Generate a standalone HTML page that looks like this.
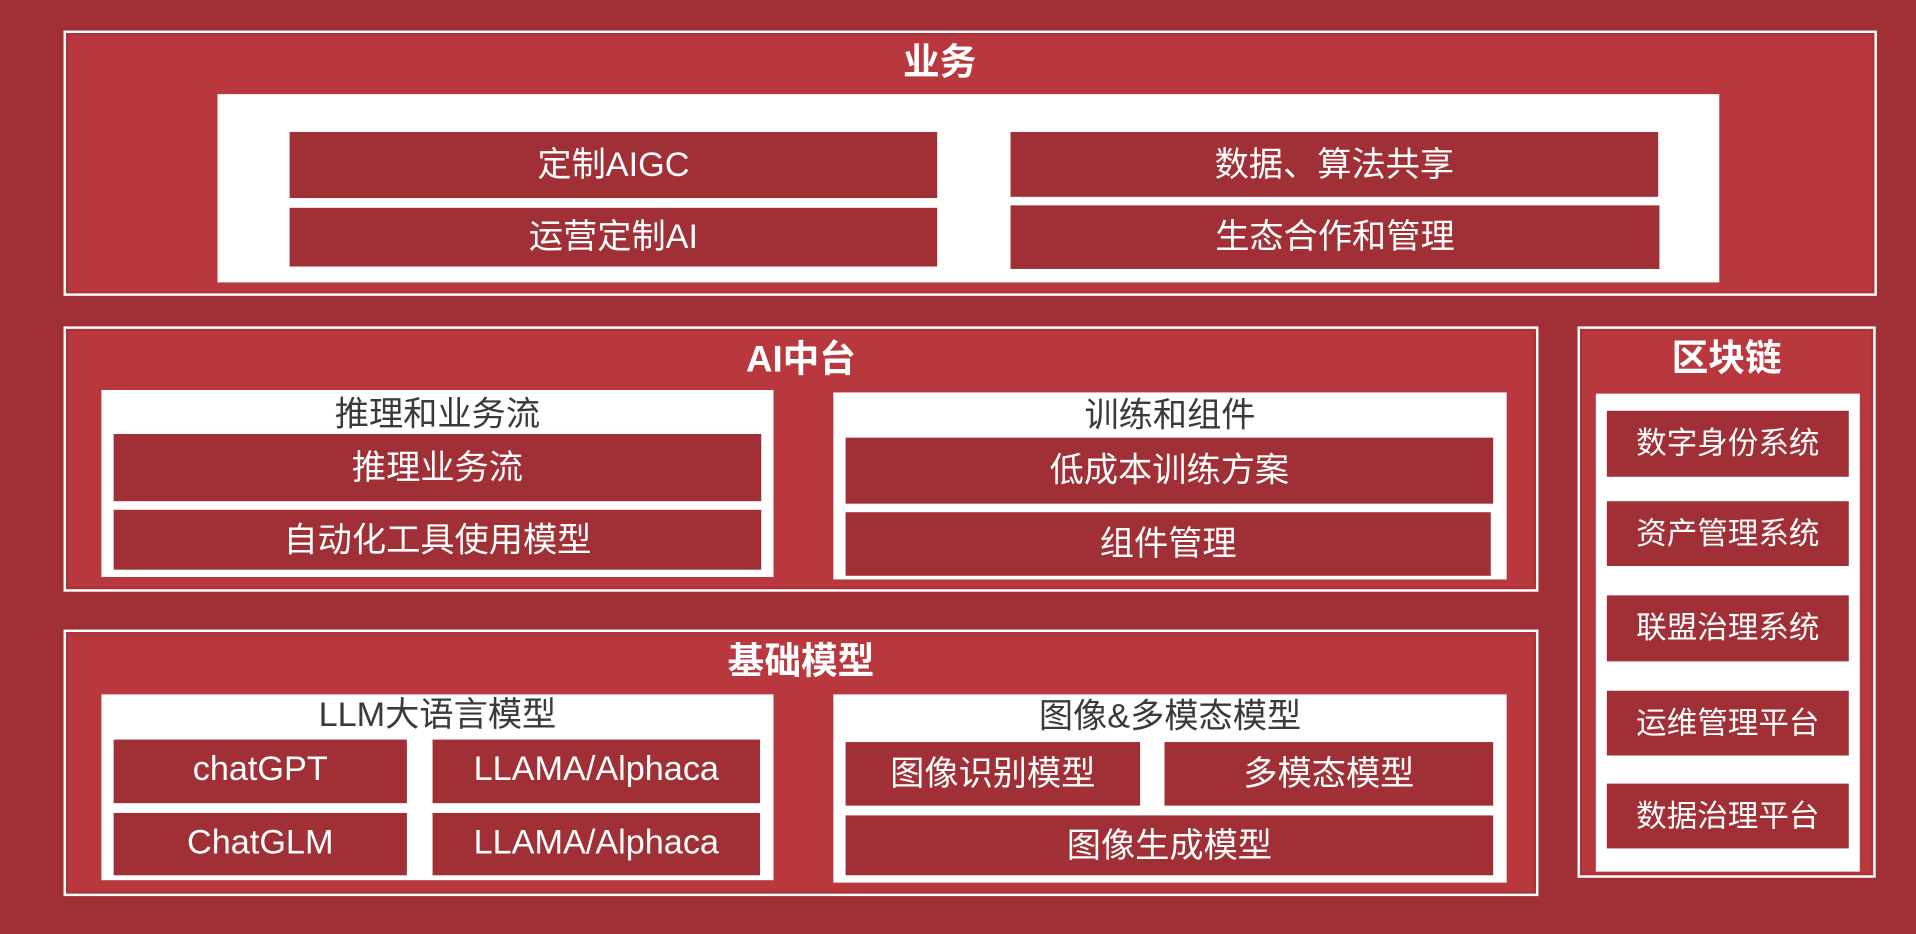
<!DOCTYPE html>
<html><head><meta charset="utf-8"><style>
html,body{margin:0;padding:0;width:1916px;height:934px;overflow:hidden;background:#A03035;}
#c{position:absolute;left:0;top:0;width:1568px;height:764px;transform:scale(1.22194,1.2225);transform-origin:0 0;font-family:"Liberation Sans","Noto Sans CJK SC",sans-serif;}
.o{position:absolute;background:#B9383D;border:2px solid #fff;box-shadow:inset 0 0 0 2px #A83338;box-sizing:border-box;}
.w{position:absolute;background:#fff;}
.b{position:absolute;background:#A03035;color:#fff;font-size:28px;display:flex;align-items:center;justify-content:center;white-space:nowrap;padding-bottom:4px;box-sizing:border-box;}
.t{position:absolute;color:#fff;font-weight:bold;font-size:30px;text-align:center;line-height:1;}
.l{position:absolute;color:#3a3a3a;font-size:28px;text-align:center;line-height:1;}
.s{font-size:25px;}
</style></head><body><div id="c">
<div class="o" style="left:52px;top:25px;width:1484px;height:217px"></div>
<div class="t" style="left:52px;width:1434px;top:37px">业务</div>
<div class="w" style="left:178px;top:77px;width:1229px;height:154px"></div>
<div class="b" style="left:237px;top:108px;width:530px;height:54px">定制AIGC</div>
<div class="b" style="left:237px;top:170px;width:530px;height:48px">运营定制AI</div>
<div class="b" style="left:827px;top:108px;width:530px;height:53px">数据、算法共享</div>
<div class="b" style="left:827px;top:168px;width:531px;height:52px">生态合作和管理</div>

<div class="o" style="left:52px;top:267px;width:1207px;height:217px"></div>
<div class="t" style="left:52px;width:1207px;top:280px">AI中台</div>
<div class="w" style="left:83px;top:319px;width:550px;height:153px"></div>
<div class="l" style="left:83px;width:550px;top:325px">推理和业务流</div>
<div class="b" style="left:93px;top:355px;width:530px;height:55px">推理业务流</div>
<div class="b" style="left:93px;top:417px;width:530px;height:49px">自动化工具使用模型</div>
<div class="w" style="left:682px;top:321px;width:551px;height:153px"></div>
<div class="l" style="left:682px;width:551px;top:326px">训练和组件</div>
<div class="b" style="left:692px;top:358px;width:530px;height:54px">低成本训练方案</div>
<div class="b" style="left:692px;top:419px;width:528px;height:52px">组件管理</div>

<div class="o" style="left:52px;top:515px;width:1207px;height:218px"></div>
<div class="t" style="left:52px;width:1207px;top:527px">基础模型</div>
<div class="w" style="left:83px;top:568px;width:550px;height:152px"></div>
<div class="l" style="left:83px;width:550px;top:571px">LLM大语言模型</div>
<div class="b" style="left:93px;top:605px;width:240px;height:52px">chatGPT</div>
<div class="b" style="left:354px;top:605px;width:268px;height:52px">LLAMA/Alphaca</div>
<div class="b" style="left:93px;top:665px;width:240px;height:51px">ChatGLM</div>
<div class="b" style="left:354px;top:665px;width:268px;height:51px">LLAMA/Alphaca</div>
<div class="w" style="left:682px;top:568px;width:551px;height:154px"></div>
<div class="l" style="left:682px;width:551px;top:572px">图像&amp;多模态模型</div>
<div class="b" style="left:692px;top:607px;width:241px;height:52px">图像识别模型</div>
<div class="b" style="left:953px;top:607px;width:269px;height:52px">多模态模型</div>
<div class="b" style="left:692px;top:667px;width:530px;height:49px">图像生成模型</div>

<div class="o" style="left:1291px;top:267px;width:244px;height:451px"></div>
<div class="t" style="left:1291px;width:244px;top:279px">区块链</div>
<div class="w" style="left:1306px;top:322px;width:216px;height:391px"></div>
<div class="b s" style="left:1315px;top:336px;width:198px;height:54px">数字身份系统</div>
<div class="b s" style="left:1315px;top:410px;width:198px;height:53px">资产管理系统</div>
<div class="b s" style="left:1315px;top:487px;width:198px;height:54px">联盟治理系统</div>
<div class="b s" style="left:1315px;top:565px;width:198px;height:53px">运维管理平台</div>
<div class="b s" style="left:1315px;top:641px;width:198px;height:53px">数据治理平台</div>
</div></body></html>
